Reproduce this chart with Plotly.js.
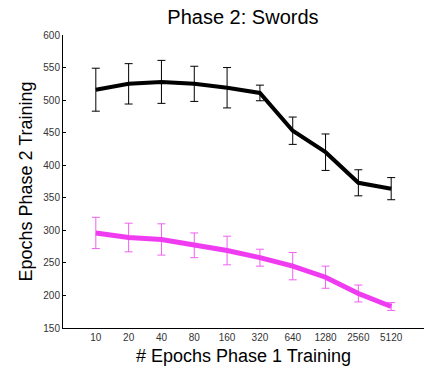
<!DOCTYPE html>
<html>
<head>
<meta charset="utf-8">
<script src="https://cdn.plot.ly/plotly-3.0.1.min.js"></script>
<style>html,body{margin:0;padding:0;background:#fff;}#chart{width:424px;height:371px;}</style>
</head>
<body>
<div id="chart"></div>
<script>
const categories = ["10","20","40","80","160","320","640","1280","2560","5120"];
const blackMean = [516, 525, 528, 525, 519, 511, 453, 420, 373, 364];
const blackErr  = [33, 31, 33, 27, 31, 12, 21, 28, 20, 17];
const magentaMean = [296, 289, 286, 277, 269, 258, 245, 228, 203, 183];
const magentaErr  = [24, 22, 24, 19, 22, 13, 21, 17, 13, 6];

const traces = [
  {
    x: categories, y: blackMean, type: 'scatter', mode: 'lines',
    line: {color: '#000000', width: 4},
    error_y: {type: 'data', array: blackErr, visible: true, color: '#000000', thickness: 1, width: 4}
  },
  {
    x: categories, y: magentaMean, type: 'scatter', mode: 'lines',
    line: {color: '#f03cf0', width: 5},
    error_y: {type: 'data', array: magentaErr, visible: true, color: '#f060f0', thickness: 1, width: 4}
  }
];

const layout = {
  width: 424, height: 371,
  margin: {l: 63, r: 0, t: 35, b: 43},
  paper_bgcolor: '#fff', plot_bgcolor: '#fff',
  showlegend: false,
  font: {family: 'Liberation Sans, Arial, sans-serif', color: '#000'},
  title: {text: 'Phase 2: Swords', x: 0.573, xanchor: 'center', y: 0.955, yanchor: 'middle', font: {size: 20, color: '#000'}},
  xaxis: {
    type: 'category', range: [-1, 10],
    showgrid: false, zeroline: false, showline: true, linecolor: '#000', linewidth: 1,
    ticks: '', tickfont: {size: 10, color: '#333'},
    title: {text: '# Epochs Phase 1 Training', font: {size: 18, color: '#000'}, standoff: 7}
  },
  yaxis: {
    range: [150, 600], tickvals: [150,200,250,300,350,400,450,500,550,600],
    showgrid: false, zeroline: false, showline: true, linecolor: '#000', linewidth: 1,
    ticks: 'inside', ticklen: 3, tickcolor: '#000', tickfont: {size: 10, color: '#333'},
    title: {text: 'Epochs Phase 2 Training', font: {size: 18, color: '#000'}, standoff: 6}
  }
};

Plotly.newPlot('chart', traces, layout, {displayModeBar: false, staticPlot: true});
</script>
</body>
</html>
